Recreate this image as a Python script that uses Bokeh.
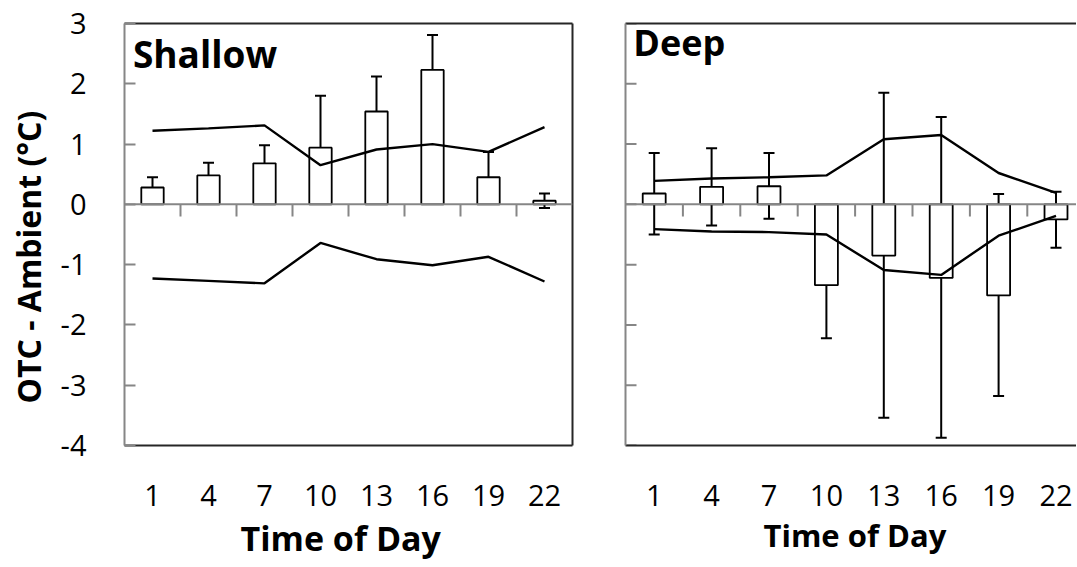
from bokeh.plotting import figure
from bokeh.models import (Range1d, LinearAxis, FixedTicker, Whisker, TeeHead,
                          ColumnDataSource, Label, Span, Title)
from bokeh.layouts import row
from bokeh.embed import file_html
from bokeh.resources import INLINE

# ---------------- data ----------------
hours = [1, 4, 7, 10, 13, 16, 19, 22]

shallow_mean = [0.28, 0.48, 0.68, 0.94, 1.54, 2.23, 0.45, 0.06]
shallow_err_upper = [0.45, 0.69, 0.98, 1.80, 2.12, 2.81, 0.87, 0.18]
shallow_err_lower = [0.09, 0.26, 0.385, 0.07, 0.95, 1.65, 0.02, -0.06]
shallow_env_upper = [1.22, 1.26, 1.31, 0.65, 0.91, 1.00, 0.87, 1.28]
shallow_env_lower = [-1.23, -1.27, -1.31, -0.64, -0.91, -1.01, -0.87, -1.28]

deep_mean = [0.18, 0.29, 0.30, -1.34, -0.85, -1.22, -1.51, -0.25]
deep_err_upper = [0.85, 0.93, 0.85, -0.44, 1.85, 1.45, 0.17, 0.21]
deep_err_lower = [-0.50, -0.35, -0.24, -2.22, -3.54, -3.87, -3.18, -0.72]
deep_env_upper = [0.39, 0.43, 0.45, 0.48, 1.08, 1.15, 0.52, 0.19]
deep_env_lower = [-0.41, -0.45, -0.46, -0.50, -1.09, -1.17, -0.52, -0.19]

y_ticks = [-4, -3, -2, -1, 0, 1, 2, 3]

FONT = "Open Sans"
GRAY = "#868686"
DARK = "#262626"


def make_panel(title, mean, eu, el, env_u, env_l, width, height, x_end,
               mb_left, mb_right, mb_top, mb_bottom, show_ylabels,
               title_x, title_y, title_size, xlabel_offset, xlabel_size,
               xlabel_standoff, right_border):
    idx = list(range(1, len(hours) + 1))
    p = figure(width=width, height=height, output_backend="svg",
               toolbar_location=None, x_range=Range1d(0.5, x_end),
               y_range=Range1d(-4, 3), min_border_left=mb_left,
               min_border_right=mb_right, min_border_top=mb_top,
               min_border_bottom=mb_bottom,
               y_axis_location="left" if show_ylabels else None)
    p.outline_line_color = None
    p.background_fill_color = "white"
    p.border_fill_color = "white"
    p.xgrid.grid_line_color = None
    p.ygrid.grid_line_color = None

    src = ColumnDataSource(dict(x=idx, top=mean, eu=eu, el=el,
                                env_u=env_u, env_l=env_l))
    # bars
    p.vbar(x="x", top="top", bottom=0, width=0.4, source=src,
           fill_color="white", line_color="black", line_width=1.8)

    # zero line with category separator ticks
    p.add_layout(Span(location=0, dimension="width", line_color=GRAY,
                      line_width=2))
    sep = [i + 0.5 for i in idx[:-1]]
    p.segment(x0=sep, y0=[0] * len(sep), x1=sep, y1=[-0.2] * len(sep),
              line_color=GRAY, line_width=2)

    # envelope lines
    p.line(x="x", y="env_u", source=src, line_color="black", line_width=2.4)
    p.line(x="x", y="env_l", source=src, line_color="black", line_width=2.4)

    # error bars
    p.add_layout(Whisker(source=src, base="x", upper="eu", lower="el",
                         line_color="black", line_width=2,
                         upper_head=TeeHead(size=11, line_color="black", line_width=2),
                         lower_head=TeeHead(size=11, line_color="black", line_width=2)))

    # panel title
    p.add_layout(Label(x=title_x, y=title_y, text=title,
                       text_font=FONT, text_font_style="bold",
                       text_font_size=title_size, text_color="black",
                       text_baseline="alphabetic", text_align="left"))

    # x axis
    xa = p.xaxis[0]
    xa.ticker = FixedTicker(ticks=idx)
    xa.major_label_overrides = {i: str(h) for i, h in zip(idx, hours)}
    xa.major_tick_line_color = None
    xa.minor_tick_line_color = None
    xa.axis_line_color = DARK
    xa.axis_line_width = 2
    xa.major_label_text_font = FONT
    xa.major_label_text_font_size = "29px"
    xa.major_label_text_color = "black"
    xa.major_label_standoff = 33

    # x axis title
    p.add_layout(Title(text="Time of Day", align="left", offset=xlabel_offset,
                       standoff=xlabel_standoff, vertical_align="bottom",
                       text_font=FONT, text_font_style="bold",
                       text_font_size=xlabel_size, text_color="black"),
                 "below")

    def border_axis(loc, color):
        a = LinearAxis(ticker=FixedTicker(ticks=[]), axis_line_color=color,
                       axis_line_width=2, major_tick_line_color=None,
                       minor_tick_line_color=None,
                       major_label_text_font_size="0px",
                       major_label_standoff=0)
        p.add_layout(a, loc)

    # y axis
    if show_ylabels:
        ya = p.yaxis[0]
        ya.ticker = FixedTicker(ticks=y_ticks)
        ya.major_label_overrides = {t: str(t) for t in y_ticks}
        ya.axis_line_color = GRAY
        ya.axis_line_width = 2
        ya.major_tick_line_color = GRAY
        ya.major_tick_line_width = 2
        ya.major_tick_in = 11
        ya.major_tick_out = 0
        ya.minor_tick_line_color = None
        ya.major_label_text_font = FONT
        ya.major_label_text_font_size = "29px"
        ya.major_label_text_color = "black"
        ya.major_label_standoff = 38
        # y axis title
        p.add_layout(Title(text="OTC - Ambient (°C)", align="left", offset=42,
                           standoff=12, vertical_align="top",
                           text_font=FONT, text_font_style="bold",
                           text_font_size="32px", text_color="black"),
                     "left")
    else:
        border_axis("left", GRAY)
        frame_w = width - mb_left - mb_right
        tick_len = 11 * (x_end - 0.5) / frame_w
        p.segment(x0=[0.5] * len(y_ticks), y0=y_ticks,
                  x1=[0.5 + tick_len] * len(y_ticks), y1=y_ticks,
                  line_color=GRAY, line_width=2)

    border_axis("above", DARK)
    if right_border:
        border_axis("right", DARK)
    return p


p1 = make_panel("Shallow", shallow_mean, shallow_err_upper, shallow_err_lower,
                shallow_env_upper, shallow_env_lower,
                width=582, height=566, x_end=8.5,
                mb_left=122, mb_right=10, mb_top=23, mb_bottom=119,
                show_ylabels=True, title_x=0.65, title_y=2.50,
                title_size="37px", xlabel_offset=116, xlabel_size="34px",
                xlabel_standoff=9, right_border=True)

p2 = make_panel("Deep", deep_mean, deep_err_upper, deep_err_lower,
                deep_env_upper, deep_env_lower,
                width=494, height=566, x_end=0.5 + 451 / 57.4,
                mb_left=43, mb_right=0, mb_top=21, mb_bottom=121,
                show_ylabels=False, title_x=0.635, title_y=2.69,
                title_size="36px", xlabel_offset=138, xlabel_size="31px",
                xlabel_standoff=6, right_border=False)

layout = row(p1, p2)
open("out.html", "w").write(file_html(layout, INLINE))
